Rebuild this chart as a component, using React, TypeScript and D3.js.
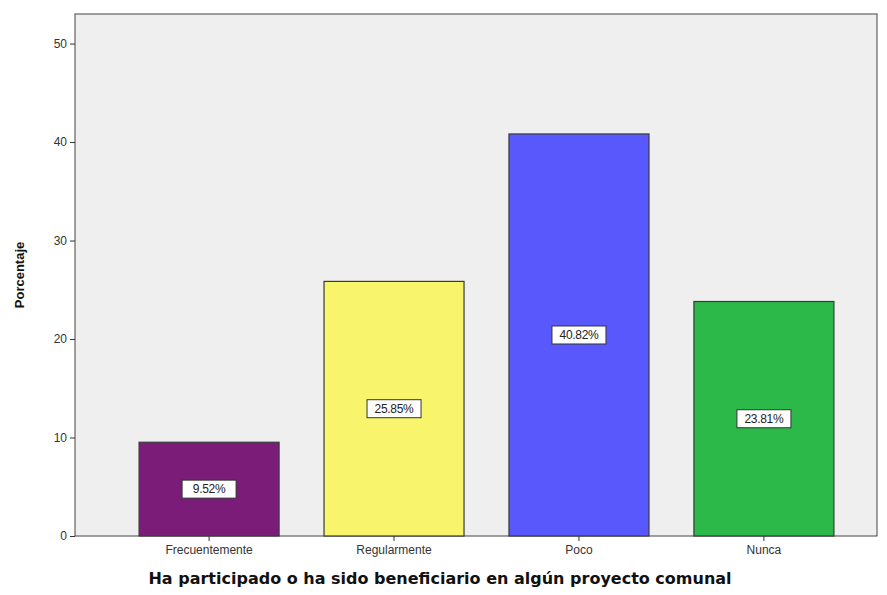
import React, { useEffect, useRef } from 'react';
import * as d3 from 'd3';

const categories = ['Frecuentemente', 'Regularmente', 'Poco', 'Nunca'];
const percentages = [9.52, 25.85, 40.82, 23.81];
const barColors = ['#7a1c78', '#f8f46c', '#5858fc', '#2db84a'];
const yTicks = [0, 10, 20, 30, 40, 50];

function App() {
  const ref = useRef<SVGSVGElement>(null);

  useEffect(() => {
    const svg = d3.select(ref.current);
    svg.selectAll('*').remove();

    const W = 887;
    const H = 595;
    const left = 75, right = 877, top = 14, bottom = 536;

    const y = d3.scaleLinear().domain([0, 53]).range([bottom, top]);
    const x = d3.scaleBand<string>()
      .domain(categories)
      .range([118, 855])
      .paddingInner(0.243)
      .paddingOuter(0.114);

    svg.attr('width', W).attr('height', H);
    svg.append('rect').attr('width', W).attr('height', H).attr('fill', '#fff');

    // plot background
    svg.append('rect')
      .attr('x', left).attr('y', top)
      .attr('width', right - left).attr('height', bottom - top)
      .attr('fill', '#efefef')
      .attr('stroke', '#444').attr('stroke-width', 1);

    // bars
    svg.selectAll('.bar')
      .data(percentages)
      .enter().append('rect')
      .attr('x', (d, i) => x(categories[i]) as number)
      .attr('y', d => y(d))
      .attr('width', x.bandwidth())
      .attr('height', d => bottom - y(d))
      .attr('fill', (d, i) => barColors[i])
      .attr('stroke', '#3a3a3a')
      .attr('stroke-width', 1.2);

    // value labels
    const labels = svg.selectAll('.lbl')
      .data(percentages)
      .enter().append('g')
      .attr('transform', (d, i) => `translate(${(x(categories[i]) as number) + x.bandwidth() / 2},${y(d / 2)})`);
    labels.append('rect')
      .attr('x', -27).attr('y', -9).attr('width', 54).attr('height', 18)
      .attr('fill', '#fff').attr('stroke', '#333').attr('stroke-width', 1);
    labels.append('text')
      .attr('text-anchor', 'middle').attr('dy', '0.35em')
      .style('font-family', 'Liberation Sans, Arial, sans-serif')
      .style('font-size', '12px')
      .style('letter-spacing', '-0.3px')
      .attr('fill', '#222')
      .text(d => `${d.toFixed(2)}%`);

    // y axis
    const yAxis = svg.append('g').attr('transform', `translate(${left},0)`)
      .call(d3.axisLeft(y).tickValues(yTicks).tickSize(5).tickPadding(3));
    yAxis.select('.domain').remove();
    yAxis.selectAll('line').attr('stroke', '#333');
    yAxis.selectAll('text')
      .style('font-family', 'Liberation Sans, Arial, sans-serif')
      .style('font-size', '12px').attr('fill', '#333');

    // x axis
    const xAxis = svg.append('g').attr('transform', `translate(0,${bottom})`)
      .call(d3.axisBottom(x).tickSize(5).tickPadding(4));
    xAxis.select('.domain').remove();
    xAxis.selectAll('line').attr('stroke', '#333');
    xAxis.selectAll('text')
      .style('font-family', 'Liberation Sans, Arial, sans-serif')
      .style('font-size', '12px').attr('fill', '#333');

    // axis titles
    svg.append('text')
      .attr('transform', `translate(24,${(top + bottom) / 2}) rotate(-90)`)
      .attr('text-anchor', 'middle')
      .style('font-family', 'Liberation Sans, Arial, sans-serif')
      .style('font-size', '13px').style('font-weight', 'bold')
      .attr('fill', '#111')
      .text('Porcentaje');

    svg.append('text')
      .attr('x', 440).attr('y', 584)
      .attr('text-anchor', 'middle')
      .style('font-family', 'DejaVu Sans, Verdana, sans-serif')
      .style('font-size', '16px').style('font-weight', 'bold')
      .attr('fill', '#111')
      .text('Ha participado o ha sido beneficiario en algún proyecto comunal');
  }, []);

  return (
    <div style={{ margin: -8 }}>
      <svg ref={ref} style={{ display: 'block' }} />
    </div>
  );
}

export default App;
